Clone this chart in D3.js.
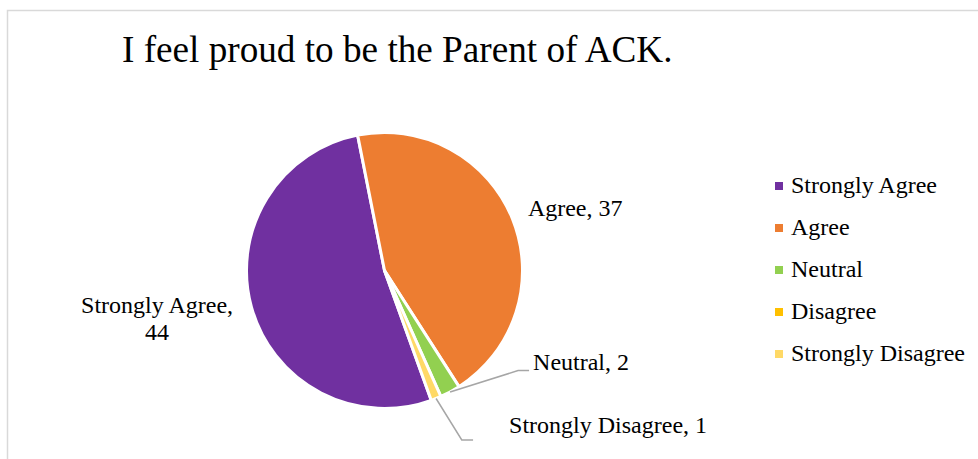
<!DOCTYPE html>
<html>
<head>
<meta charset="utf-8">
<script src="https://cdn.jsdelivr.net/npm/d3@7"></script>
<style>
  html, body { margin: 0; padding: 0; background: #fff; }
  svg { display: block; }
  text { font-family: "Liberation Serif", "Times New Roman", serif; fill: #000; }
</style>
</head>
<body>
<svg id="chart" width="978" height="459"></svg>
<script>
// ---- data ----
const title = "I feel proud to be the Parent of ACK.";
const categories = ["Strongly Agree", "Agree", "Neutral", "Disagree", "Strongly Disagree"];
const values = [44, 37, 2, 0, 1];
const colors = ["#7030A0", "#ED7D31", "#92D050", "#FFC000", "#FFD966"];

// ---- layout ----
const W = 978, H = 459;
const cx = 384.5, cy = 270.5, R = 138;
const startDeg = 160.2;
// label placement relative to the slice's outer mid-point
const labelLayout = {
  "Strongly Agree":    { dx: -94.5, dy: 5.6, anchor: "middle", lines: 2 },
  "Agree":             { dx: 15.4, dy: -3, anchor: "start" },
  "Neutral":           { elbow: [68, -21.3], lineEnd: [79, -21.3], dx: 83, dy: -21.5, anchor: "start" },
  "Strongly Disagree": { elbow: [25.7, 41.5], lineEnd: [37, 41.5], dx: 73, dy: 34.5, anchor: "start" }
};

const svg = d3.select("#chart");

// frame
svg.append("rect")
  .attr("x", 7.5).attr("y", 10.5)
  .attr("width", W + 20).attr("height", H + 20)
  .attr("fill", "none").attr("stroke", "#d9d9d9").attr("stroke-width", 1.5);

// title
svg.append("text")
  .attr("x", 122).attr("y", 62)
  .style("font-size", "37.2px")
  .text(title);

const data = categories.map((c, i) => ({ cat: c, value: values[i], color: colors[i] }));

const pie = d3.pie()
  .value(d => d.value)
  .sort(null)
  .startAngle(startDeg * Math.PI / 180)
  .endAngle(startDeg * Math.PI / 180 + 2 * Math.PI);

const arcs = pie(data);
const arc = d3.arc().innerRadius(0).outerRadius(R);

const g = svg.append("g").attr("transform", `translate(${cx},${cy})`);

g.selectAll("path.slice")
  .data(arcs.filter(a => a.data.value > 0))
  .join("path")
  .attr("class", "slice")
  .attr("d", arc)
  .attr("fill", d => d.data.color)
  .attr("stroke", "#fff")
  .attr("stroke-width", 3)
  .attr("stroke-linejoin", "round");

// labels
arcs.filter(a => a.data.value > 0).forEach(a => {
  const L = labelLayout[a.data.cat];
  if (!L) return;
  const mid = (a.startAngle + a.endAngle) / 2;
  const px = R * Math.sin(mid), py = -R * Math.cos(mid);
  if (L.elbow) {
    g.append("polyline")
      .attr("points", [[px, py], [px + L.elbow[0], py + L.elbow[1]], [px + L.lineEnd[0], py + L.lineEnd[1]]].map(p => p.join(",")).join(" "))
      .attr("fill", "none").attr("stroke", "#a6a6a6").attr("stroke-width", 1.5);
  }
  const t = g.append("text")
    .attr("x", px + L.dx).attr("y", py + L.dy)
    .attr("text-anchor", L.anchor)
    .style("font-size", "24px");
  if (L.lines === 2) {
    t.append("tspan").attr("x", px + L.dx).text(a.data.cat + ",");
    t.append("tspan").attr("x", px + L.dx).attr("dy", 27).text(a.data.value);
  } else {
    t.text(a.data.cat + ", " + a.data.value);
  }
});

// legend
const legend = svg.append("g");
const lg = legend.selectAll("g.item")
  .data(data)
  .join("g")
  .attr("class", "item")
  .attr("transform", (d, i) => `translate(775, ${193 + i * 42})`);
lg.append("rect")
  .attr("x", 0).attr("y", -11).attr("width", 8).attr("height", 8)
  .attr("fill", d => d.color);
lg.append("text")
  .attr("x", 16).attr("y", 0)
  .style("font-size", "24px")
  .text(d => d.cat);
</script>
</body>
</html>
